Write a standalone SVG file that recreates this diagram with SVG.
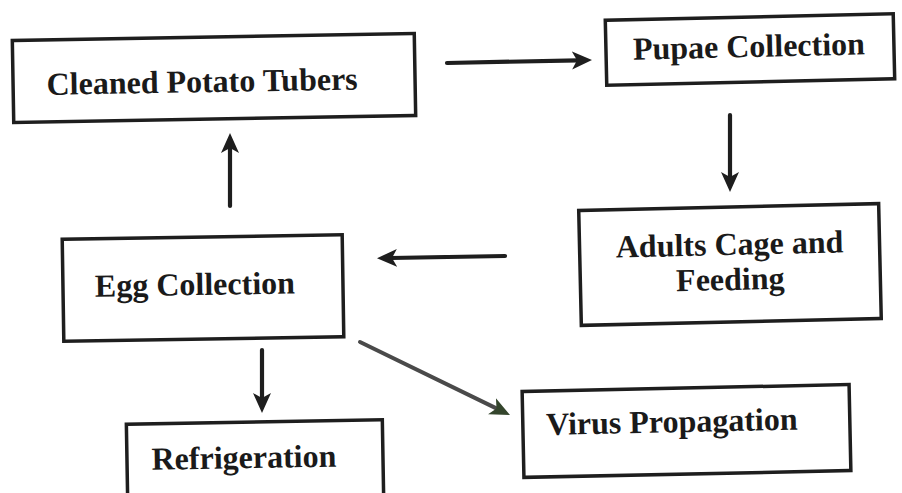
<svg xmlns="http://www.w3.org/2000/svg" width="902" height="493" viewBox="0 0 902 493">
<style>
.box{fill:#fff;stroke:#1e1e1e;stroke-width:3.5}
.lbl{font-family:"Liberation Serif","Times New Roman",serif;font-weight:bold;font-size:32px;fill:#1a1a1a;text-anchor:middle}
.conn{stroke:#1e1e1e;stroke-width:4.2;fill:none;stroke-linecap:round}
.diag{stroke:#4a4a4a;stroke-width:4;fill:none;stroke-linecap:round}
</style>
<defs>
<marker id="ah" markerUnits="userSpaceOnUse" markerWidth="24" markerHeight="20" refX="6" refY="9" orient="auto">
<path d="M0,0 L20,9 L0,18 L5,9 z" fill="#1e1e1e"/>
</marker>
<marker id="ahg" markerUnits="userSpaceOnUse" markerWidth="24" markerHeight="20" refX="6" refY="9" orient="auto">
<path d="M0,0 L20,9 L0,18 L5,9 z" fill="#34452c"/>
</marker>
</defs>
<rect width="902" height="493" fill="#fff"/>
<g id="connectors">
<line class="conn" x1="447" y1="63" x2="578" y2="60.3" marker-end="url(#ah)"/>
<line class="conn" x1="730" y1="115" x2="730" y2="178" marker-end="url(#ah)"/>
<line class="conn" x1="505" y1="256" x2="391" y2="258" marker-end="url(#ah)"/>
<line class="conn" x1="230" y1="206" x2="230" y2="147" marker-end="url(#ah)"/>
<line class="conn" x1="262" y1="350" x2="262" y2="399" marker-end="url(#ah)"/>
<line class="diag" x1="360" y1="342" x2="497.4" y2="408.9" marker-end="url(#ahg)"/>
</g>
<g id="cleaned" transform="rotate(-1 214 78)">
<rect class="box" x="13" y="37" width="402" height="82"/>
<text class="lbl" x="202" y="92">Cleaned Potato Tubers</text>
</g>
<g id="pupae" transform="rotate(-1.3 751 50)">
<rect class="box" x="606" y="17" width="288" height="65"/>
<text class="lbl" x="749" y="57">Pupae Collection</text>
</g>
<g id="adults" transform="rotate(-1.3 730 265)">
<rect class="box" x="580" y="207" width="300" height="115"/>
<text class="lbl" x="730" y="255">Adults Cage and</text>
<text class="lbl" x="730" y="290">Feeding</text>
</g>
<g id="egg" transform="rotate(-0.9 203 288)">
<rect class="box" x="63" y="237" width="280" height="102"/>
<text class="lbl" x="195" y="295">Egg Collection</text>
</g>
<g id="refrigeration" transform="rotate(-1 255 460)">
<rect class="box" x="127" y="422" width="256" height="85"/>
<text class="lbl" x="244" y="468">Refrigeration</text>
</g>
<g id="virus" transform="rotate(-1.2 686 431)">
<rect class="box" x="523" y="388" width="327" height="86"/>
<text class="lbl" x="672" y="432">Virus Propagation</text>
</g>
</svg>
